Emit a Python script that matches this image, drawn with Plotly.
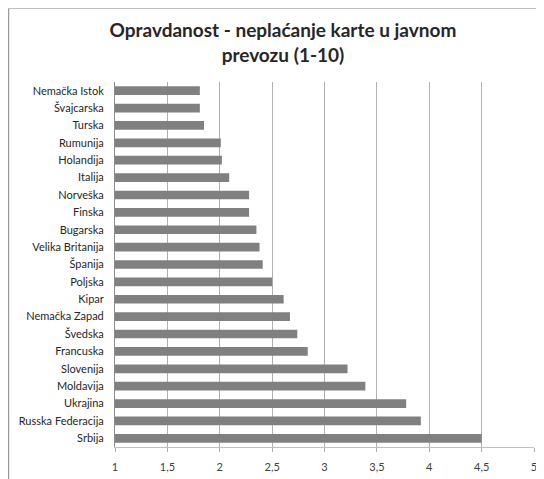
import plotly.graph_objects as go

countries = [
    "Nemačka Istok", "Švajcarska", "Turska", "Rumunija", "Holandija",
    "Italija", "Norveška", "Finska", "Bugarska", "Velika Britanija",
    "Španija", "Poljska", "Kipar", "Nemačka Zapad", "Švedska",
    "Francuska", "Slovenija", "Moldavija", "Ukrajina", "Russka Federacija",
    "Srbija",
]
scores = [
    1.81, 1.81, 1.85, 2.01, 2.02,
    2.09, 2.28, 2.28, 2.35, 2.38,
    2.41, 2.50, 2.61, 2.67, 2.74,
    2.84, 3.22, 3.39, 3.78, 3.92,
    4.50,
]
x_ticks = [1, 1.5, 2, 2.5, 3, 3.5, 4, 4.5, 5]

fig = go.Figure()
fig.add_trace(go.Bar(
    x=scores,
    y=countries,
    orientation="h",
    marker=dict(color="#808080", line=dict(width=0)),
    width=0.5,
    showlegend=False,
))

# the page body keeps its 8px margin; the chart frame starts there
fig.update_layout(
    width=536,
    height=471,
    margin=dict(l=107, r=10, t=74, b=32, autoexpand=False),
    paper_bgcolor="white",
    plot_bgcolor="white",
    separators=",.",
    font=dict(family="Lato, Open Sans, sans-serif", size=11, color="#404040"),
    title=dict(
        text="<b>Opravdanost - neplaćanje karte u javnom<br>prevozu (1-10)</b>",
        x=0.513, xanchor="center",
        y=0.938, yanchor="top",
        font=dict(size=19, color="#262626"),
    ),
)

fig.update_xaxes(
    range=[1, 5],
    tickvals=x_ticks,
    showgrid=True,
    gridcolor="#b0b0b0",
    gridwidth=1,
    showline=True,
    linecolor="#bfbfbf",
    zeroline=False,
    ticks="outside",
    ticklen=4,
    tickcolor="#b0b0b0",
    ticklabelstandoff=6,
    tickfont=dict(size=11, color="#404040"),
    automargin=False,
)
fig.update_yaxes(
    autorange="reversed",
    showgrid=False,
    showline=True,
    linecolor="#8c8c8c",
    ticks="outside",
    ticklen=8,
    tickcolor="rgba(0,0,0,0)",
    tickfont=dict(size=11, color="#262626"),
    automargin=False,
)

# outer chart frame (left and top edges visible)
fig.add_shape(type="line", xref="paper", yref="paper",
              x0=-0.2542, x1=1.05, y0=1.2014, y1=1.2014,
              line=dict(color="#bfbfbf", width=1))
fig.add_shape(type="line", xref="paper", yref="paper",
              x0=-0.2542, x1=-0.2542, y0=1.2014, y1=-0.09,
              line=dict(color="#999999", width=1.5))

fig.write_html(
    "out.html",
    post_script="document.body.style.overflow = 'hidden';",
)
